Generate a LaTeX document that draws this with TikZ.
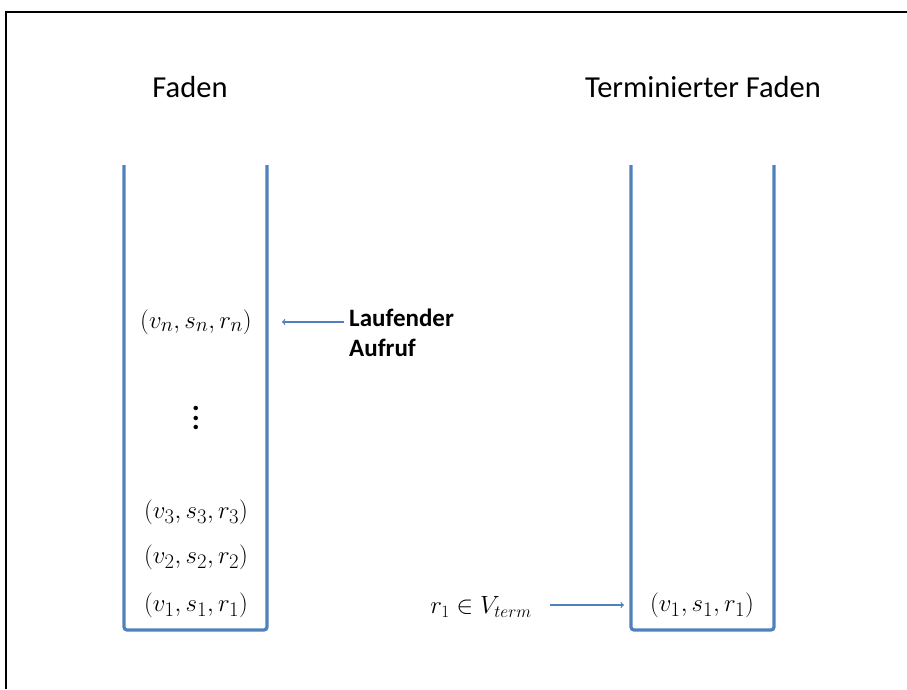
\documentclass[tikz,border=0pt]{standalone}
\usepackage{amsmath}
\usepackage{fontspec}
\setmainfont{Carlito}
\usepackage{tikz}
\usetikzlibrary{arrows}

\definecolor{stackblue}{RGB}{79,129,189}

\begin{document}
\begin{tikzpicture}[x=1pt, y=-1pt]

  \tikzset{stack/.style = {draw=stackblue, line width=3.2pt, rounded corners=3pt}}
  \tikzset{tuple/.style = {inner sep=2pt, font=\fontsize{28}{32}\selectfont}}
  \tikzset{title/.style = {font=\fontsize{30.5}{36}\selectfont}}
  \tikzset{pointer/.style = {->, draw=stackblue, line width=1.2pt}}
  \useasboundingbox (0,0) rectangle (907,689);
  % frame
  \draw[line width=2pt] (6,689) -- (6,12) -- (907,12);
  % stacks
  \draw[stack] (124,165) -- (124,630) -- (267,630) -- (267,165);
  \draw[stack] (631,165) -- (631,630) -- (774,630) -- (774,165);
  % titles
  \node[title] (faden) at (190,87) {Faden};
  \node[title] (tfaden) at (703,87) {Terminierter Faden};
  % entries
  \node[tuple] (vn) at (196,322) {$(v_n, s_n, r_n)$};
  \node[inner sep=0pt, align=center, font=\bfseries\fontsize{30}{9.5}\selectfont] (dots) at (196,418) {.\\.\\.};
  \node[tuple] (v3) at (196,512) {$(v_3, s_3, r_3)$};
  \node[tuple] (v2) at (196,557) {$(v_2, s_2, r_2)$};
  \node[tuple] (v1) at (196,605) {$(v_1, s_1, r_1)$};
  \node[tuple] (t1) at (702,605) {$(v_1, s_1, r_1)$};
  \node[tuple, font=\fontsize{26}{30}\selectfont] (term) at (481,607) {$r_1 \in V_{term}$};
  \node[font=\bfseries\fontsize{25}{30}\selectfont, align=left, anchor=north west,
        inner sep=0pt] (lauf) at (349,309) {Laufender\\Aufruf};
  % arrows
  \draw[pointer, shorten <=5pt, shorten >=28pt] (lauf.west |- vn) -- (vn.east);
  \draw[pointer, shorten <=16pt, shorten >=24pt] (term.east |- t1) -- (t1.west);
\end{tikzpicture}
\end{document}
